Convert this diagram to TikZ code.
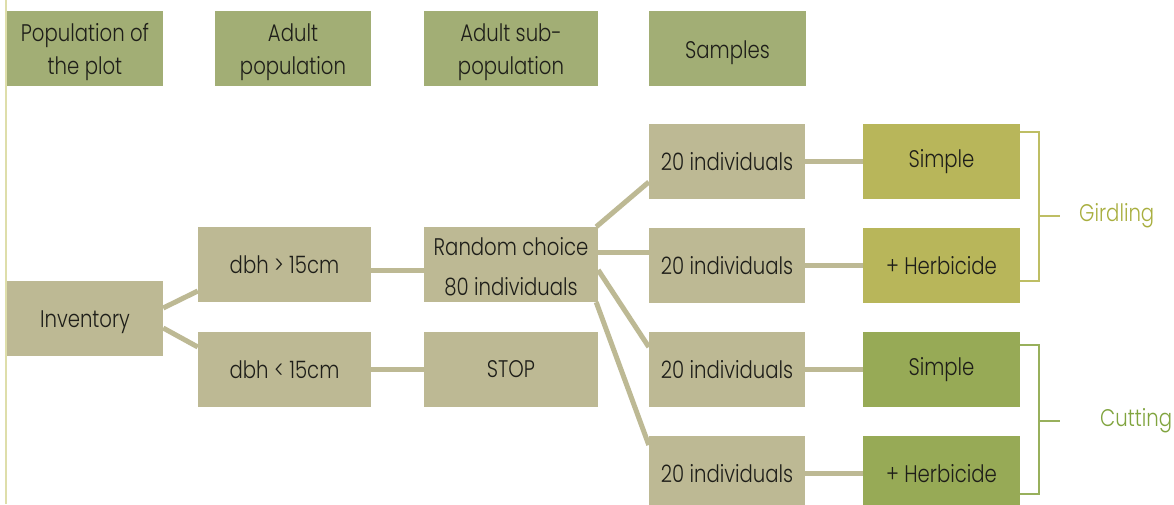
\documentclass[tikz,border=0pt]{standalone}
\usepackage{fontspec}
\IfFontExistsTF{Poppins Light}{\setmainfont{Poppins Light}[FakeStretch=0.82]}{\setmainfont{Poppins}[FakeStretch=0.82]}
\definecolor{headc}{RGB}{162,174,117}
\definecolor{rowc}{RGB}{189,185,148}
\definecolor{girdc}{RGB}{184,182,90}
\definecolor{cutc}{RGB}{151,170,86}
\definecolor{girdtext}{RGB}{168,174,62}
\definecolor{girdline}{RGB}{190,190,100}
\definecolor{cuttext}{RGB}{128,164,62}
\definecolor{cutline}{RGB}{152,176,92}
\definecolor{leftline}{RGB}{222,222,170}
\definecolor{txt}{RGB}{30,30,25}
\tikzset{
  box/.style={inner sep=0pt, minimum height=75pt, align=center, text=txt,
    font=\fontsize{24}{33}\selectfont},
  lblc/.style={inner sep=0pt, align=center, text=txt, font=\fontsize{24}{33}\selectfont},
  headbox/.style={box, fill=headc},
  rowbox/.style={box, fill=rowc},
  girdbox/.style={box, fill=girdc},
  cutbox/.style={box, fill=cutc},
  conn/.style={draw=rowc, line width=5pt},
  gbracket/.style={draw=girdline, line width=2.5pt},
  cbracket/.style={draw=cutline, line width=2.5pt},
  lbl/.style={inner sep=0pt, anchor=west, font=\fontsize{24}{28}\selectfont}
}
\begin{document}
\begin{tikzpicture}[x=1pt,y=-1pt]
\useasboundingbox (0,0) rectangle (1174,504);
\clip (0,0) rectangle (1174,504);
\fill[white] (0,0) rectangle (1174,504);
\coordinate (lt) at (6,0);
\coordinate (lb) at (6,504);
\draw[leftline, line width=2pt] (lt) -- (lb);
% header
\node[headbox, minimum width=156pt, label={[lblc, yshift=-4pt]center:{Population of\\the plot}}] (h1) at (85,48.5) {};
\node[headbox, minimum width=156pt, label={[lblc, yshift=-4pt]center:{Adult\\population}}] (h2) at (293,48.5) {};
\node[headbox, minimum width=174pt, label={[lblc, yshift=-4pt]center:{Adult sub-\\population}}] (h3) at (511,48.5) {};
\node[headbox, minimum width=157pt, label={[lblc, yshift=-4pt]center:{Samples}}] (h4) at (727.5,48.5) {};
% rows
\node[rowbox, minimum width=156pt, label={[lblc, yshift=-4pt]center:{Inventory}}] (inv) at (85,318.5) {};
\node[rowbox, minimum width=173pt] (g1) at (284.5,264.5) {dbh > 15cm};
\node[rowbox, minimum width=173pt] (g2) at (284.5,369.5) {dbh < 15cm};
\node[rowbox, minimum width=174pt, label={[lblc, yshift=-2pt]center:{Random choice\\[7pt]80 individuals}}] (rc) at (511,264.5) {};
\node[rowbox, minimum width=174pt] (stop) at (511,369.5) {STOP};
\node[rowbox, minimum width=156pt] (s1) at (727,161.5) {20 individuals};
\node[rowbox, minimum width=156pt] (s2) at (727,265.5) {20 individuals};
\node[rowbox, minimum width=156pt] (s3) at (727,369.5) {20 individuals};
\node[rowbox, minimum width=156pt] (s4) at (727,473.5) {20 individuals};
\node[girdbox, minimum width=157pt] (t1) at (941.5,161.5) {Simple};
\node[girdbox, minimum width=157pt] (t2) at (941.5,265.5) {+ Herbicide};
\node[cutbox, minimum width=157pt] (t3) at (941.5,369.5) {Simple};
\node[cutbox, minimum width=157pt] (t4) at (941.5,473.5) {+ Herbicide};
% connectors
\draw[conn] ([yshift=10.5pt]inv.east) -- ([yshift=-26.5pt]g1.west);
\draw[conn] ([yshift=-9.5pt]inv.east) -- ([yshift=22.5pt]g2.west);
\draw[conn] ([yshift=-5.5pt]g1.east) -- ([yshift=-5.5pt]rc.west);
\draw[conn] (g2.east) -- (stop.west);
\draw[conn] ([xshift=-2pt]rc.north east) -- ([yshift=-20.5pt]s1.west);
\draw[conn] ([yshift=12.5pt]rc.east) -- ([yshift=13.5pt]s2.west);
\draw[conn] ([yshift=-5.5pt]rc.east) -- ([yshift=22.5pt]s3.west);
\draw[conn] ([xshift=-2pt]rc.south east) -- ([yshift=28.5pt]s4.west);
\draw[conn] (s1.east) -- (t1.west);
\draw[conn] (s2.east) -- (t2.west);
\draw[conn] (s3.east) -- (t3.west);
\draw[conn] (s4.east) -- (t4.west);
% brackets and labels
\node[lbl, text=girdtext] (gird) at (1079,216) {Girdling};
\node[lbl, text=cuttext] (cut) at (1100,421) {Cutting};
\coordinate (gm) at (1039,216);
\coordinate (cm) at (1039,421);
\draw[gbracket] ([yshift=29.5pt]t1.east) -| (gm) |- ([yshift=-15.5pt]t2.east);
\draw[gbracket] (gm) -- ([xshift=-19pt]gird.west);
\draw[cbracket] ([yshift=24.5pt]t3.east) -| (cm) |- ([yshift=-20.5pt]t4.east);
\draw[cbracket] (cm) -- ([xshift=-40pt]cut.west);
\end{tikzpicture}
\end{document}
